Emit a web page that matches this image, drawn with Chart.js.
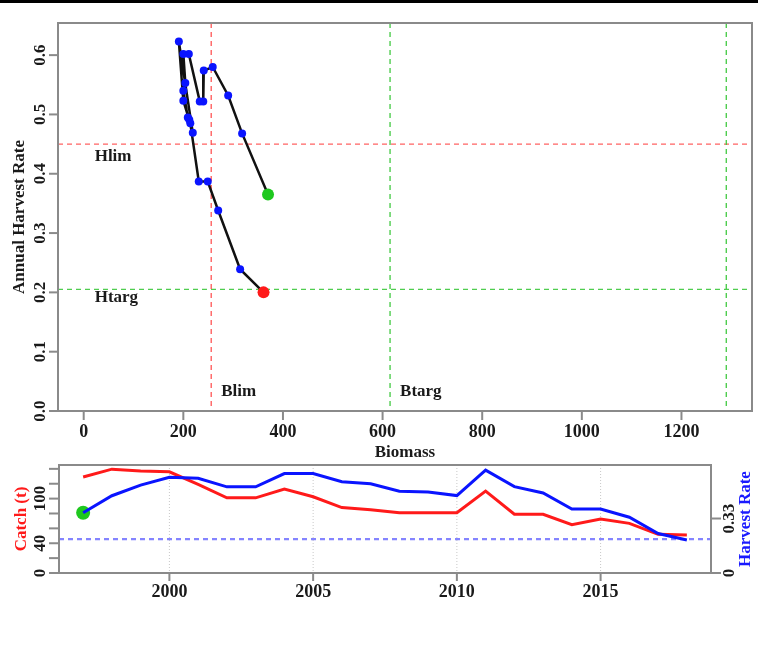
<!DOCTYPE html>
<html>
<head>
<meta charset="utf-8">
<script src="https://cdn.jsdelivr.net/npm/chart.js@4/dist/chart.umd.min.js"></script>
<style>
  html, body { margin: 0; padding: 0; background: #fff; }
  #wrap { position: relative; width: 758px; height: 670px; overflow: hidden; background: #fff; }
  #wrap canvas { position: absolute; left: 0; top: 0; }
  #rule { position: absolute; left: 0; top: 0; width: 758px; height: 3px; background: #000; }
</style>
</head>
<body>
<div id="wrap">
  <div id="rule"></div>
  <canvas id="phase" width="758" height="670"></canvas>
  <canvas id="series" width="758" height="670"></canvas>
</div>
<script>
// ---- stock data, one entry per year ----
const years = [1997, 1998, 1999, 2000, 2001, 2002, 2003, 2004, 2005, 2006, 2007,
               2008, 2009, 2010, 2011, 2012, 2013, 2014, 2015, 2016, 2017, 2018];
const biomass = [370, 318, 290, 259, 241, 240, 233, 211, 200, 204, 200,
                 209, 212, 219, 191, 200, 214, 231, 249, 270, 314, 361];
const harvestRate = [0.365, 0.468, 0.532, 0.580, 0.574, 0.522, 0.522, 0.602, 0.602, 0.553, 0.540,
                     0.495, 0.491, 0.469, 0.623, 0.523, 0.485, 0.387, 0.387, 0.338, 0.239, 0.200];
const catchT = [129, 139.6, 137, 136, 119, 101, 101, 112.7, 102.5, 88, 85,
                81, 81, 81, 110, 79, 79, 65, 72.5, 66.7, 52, 51];

// ---- reference points ----
const blim = 256;
const btarg = 615;
const bUpper = 1290;
const hlim = 0.45;
const htarg = 0.205;

// ---- axis ticks ----
const biomassTicks = [0, 200, 400, 600, 800, 1000, 1200];
const rateTicks = [0, 0.1, 0.2, 0.3, 0.4, 0.5, 0.6];
const rateTickLabels = ['0.0', '0.1', '0.2', '0.3', '0.4', '0.5', '0.6'];
const yearTicks = [2000, 2005, 2010, 2015];
const catchTicks = [0, 20, 40, 60, 80, 100, 120, 140];
const catchTickLabels = [0, 40, 100];
const rightRateTicks = [0, 0.33];
const rightRateTickLabels = ['0', '0.33'];

// axis limits (4% extension on x, zero-based y with headroom)
const bMaxLim = bUpper;
const rateMax = Math.max(...harvestRate) * 1.05;
const catchMax = Math.max(...catchT) * 1.04;
const yearPad = (years[years.length - 1] - years[0]) * 0.04;
const bPad = bMaxLim * 0.04;

const SERIF = '"Liberation Serif", "Times New Roman", serif';
const F = 'bold 17px ' + SERIF;
const FX = 'bold 18px ' + SERIF;
const AXIS = '#8a8a8a';
const INK = '#1a1a1a';

function vText(ctx, txt, x, y, color) {
  ctx.save();
  ctx.translate(x, y);
  ctx.rotate(-Math.PI / 2);
  ctx.font = F;
  ctx.fillStyle = color;
  ctx.textAlign = 'center';
  ctx.textBaseline = 'middle';
  ctx.fillText(txt, 0, 0);
  ctx.restore();
}
function hText(ctx, txt, x, y, color, align, font) {
  ctx.save();
  ctx.font = font || F;
  ctx.fillStyle = color;
  ctx.textAlign = align || 'center';
  ctx.textBaseline = 'middle';
  ctx.fillText(txt, x, y);
  ctx.restore();
}
function dashed(ctx, x1, y1, x2, y2, color, width, dash) {
  ctx.save();
  ctx.strokeStyle = color;
  ctx.lineWidth = width;
  ctx.setLineDash(dash);
  ctx.beginPath();
  ctx.moveTo(x1, y1);
  ctx.lineTo(x2, y2);
  ctx.stroke();
  ctx.restore();
}
function frame(ctx, a) {
  ctx.save();
  ctx.strokeStyle = AXIS;
  ctx.lineWidth = 2;
  ctx.strokeRect(a.left, a.top, a.right - a.left, a.bottom - a.top);
  ctx.restore();
}
function tick(ctx, x1, y1, x2, y2) {
  ctx.save();
  ctx.strokeStyle = AXIS;
  ctx.lineWidth = 2;
  ctx.beginPath();
  ctx.moveTo(x1, y1);
  ctx.lineTo(x2, y2);
  ctx.stroke();
  ctx.restore();
}

// ---- phase plot: harvest rate against biomass ----
const phaseDecor = {
  id: 'phaseDecor',
  beforeDatasetsDraw(chart) {
    const { ctx, chartArea: a, scales: { x, y } } = chart;
    ctx.save();
    ctx.beginPath();
    ctx.rect(a.left, a.top, a.right - a.left, a.bottom - a.top);
    ctx.clip();
    const red = 'rgba(255,70,70,0.85)', green = 'rgba(60,200,60,0.9)', d = [5, 4];
    dashed(ctx, a.left, y.getPixelForValue(hlim), a.right, y.getPixelForValue(hlim), red, 1.4, d);
    dashed(ctx, a.left, y.getPixelForValue(htarg), a.right, y.getPixelForValue(htarg), green, 1.4, d);
    dashed(ctx, x.getPixelForValue(blim), a.top, x.getPixelForValue(blim), a.bottom, red, 1.4, d);
    dashed(ctx, x.getPixelForValue(btarg), a.top, x.getPixelForValue(btarg), a.bottom, green, 1.4, d);
    dashed(ctx, x.getPixelForValue(bUpper), a.top, x.getPixelForValue(bUpper), a.bottom, green, 1.4, d);
    ctx.restore();
  },
  afterDraw(chart) {
    const { ctx, chartArea: a, scales: { x, y } } = chart;
    frame(ctx, a);
    biomassTicks.forEach(v => {
      const px = x.getPixelForValue(v);
      tick(ctx, px, a.bottom, px, a.bottom + 9);
      hText(ctx, String(v), px, a.bottom + 21, INK, 'center', FX);
    });
    rateTicks.forEach((v, i) => {
      const py = y.getPixelForValue(v);
      tick(ctx, a.left, py, a.left - 9, py);
      vText(ctx, rateTickLabels[i], a.left - 17, py, INK);
    });
    hText(ctx, 'Biomass', (a.left + a.right) / 2, a.bottom + 42, INK);
    vText(ctx, 'Annual Harvest Rate', 20, (a.top + a.bottom) / 2, INK);
    hText(ctx, 'Hlim', x.getPixelForValue(22), y.getPixelForValue(hlim) + 13, INK, 'left');
    hText(ctx, 'Htarg', x.getPixelForValue(22), y.getPixelForValue(htarg) + 8, INK, 'left');
    hText(ctx, 'Blim', x.getPixelForValue(blim) + 10, y.getPixelForValue(0.032), INK, 'left');
    hText(ctx, 'Btarg', x.getPixelForValue(btarg) + 10, y.getPixelForValue(0.032), INK, 'left');
  }
};

const last = years.length - 1;
const ptColor = years.map((_, i) => i === 0 ? '#1ec81e' : (i === last ? '#ff1a1a' : '#0a14ff'));
const ptRadius = years.map((_, i) => (i === 0 || i === last) ? 6 : 4);

new Chart(document.getElementById('phase'), {
  type: 'scatter',
  data: {
    datasets: [{
      data: biomass.map((b, i) => ({ x: b, y: harvestRate[i] })),
      showLine: true,
      borderColor: '#111',
      borderWidth: 2.5,
      tension: 0,
      pointBackgroundColor: ptColor,
      pointBorderColor: ptColor,
      pointBorderWidth: 0,
      pointRadius: ptRadius
    }]
  },
  options: {
    responsive: false,
    animation: false,
    events: [],
    layout: { padding: { left: 58, top: 23, right: 4, bottom: 259 } },
    plugins: { legend: { display: false }, tooltip: { enabled: false } },
    scales: {
      x: { type: 'linear', display: false, min: -bPad, max: bMaxLim + bPad },
      y: { type: 'linear', display: false, min: 0, max: rateMax }
    }
  },
  plugins: [phaseDecor]
});

// ---- time series: catch (left axis) and harvest rate (right axis) ----
const seriesDecor = {
  id: 'seriesDecor',
  beforeDatasetsDraw(chart) {
    const { ctx, chartArea: a, scales: { x, y1 } } = chart;
    yearTicks.forEach(v => {
      const px = x.getPixelForValue(v);
      dashed(ctx, px, a.top, px, a.bottom, '#c8c8c8', 1, [1, 2]);
    });
    const py = y1.getPixelForValue(htarg);
    dashed(ctx, a.left, py, a.right, py, 'rgba(110,110,255,0.85)', 2.2, [5, 4]);
  },
  afterDraw(chart) {
    const { ctx, chartArea: a, scales: { x, y, y1 } } = chart;
    frame(ctx, a);
    yearTicks.forEach(v => {
      const px = x.getPixelForValue(v);
      tick(ctx, px, a.bottom, px, a.bottom + 8);
      hText(ctx, String(v), px, a.bottom + 19, INK, 'center', FX);
    });
    catchTicks.forEach(v => {
      const py = y.getPixelForValue(v);
      tick(ctx, a.left, py, a.left - 10, py);
    });
    catchTickLabels.forEach(v => vText(ctx, String(v), a.left - 18, y.getPixelForValue(v), INK));
    rightRateTicks.forEach((v, i) => {
      const py = y1.getPixelForValue(v);
      tick(ctx, a.right, py, a.right + 10, py);
      vText(ctx, rightRateTickLabels[i], a.right + 19, py, INK);
    });
    vText(ctx, 'Catch (t)', 22, (a.top + a.bottom) / 2, '#ff1a1a');
    vText(ctx, 'Harvest Rate', a.right + 35, (a.top + a.bottom) / 2, '#1a1aff');
  }
};

new Chart(document.getElementById('series'), {
  type: 'scatter',
  data: {
    datasets: [
      {
        data: years.map((yr, i) => ({ x: yr, y: harvestRate[i] })),
        yAxisID: 'y1',
        showLine: true,
        borderColor: '#0a14ff',
        borderWidth: 3,
        pointRadius: 0,
        tension: 0
      },
      {
        data: years.map((yr, i) => ({ x: yr, y: catchT[i] })),
        yAxisID: 'y',
        showLine: true,
        borderColor: '#ff1a1a',
        borderWidth: 3,
        pointRadius: 0,
        tension: 0
      },
      {
        data: [{ x: years[0], y: harvestRate[0] }],
        yAxisID: 'y1',
        showLine: false,
        pointRadius: 7,
        pointBackgroundColor: '#1ec81e',
        pointBorderColor: '#1ec81e',
        pointBorderWidth: 0
      }
    ]
  },
  options: {
    responsive: false,
    animation: false,
    events: [],
    layout: { padding: { left: 59, top: 465, right: 47, bottom: 97 } },
    plugins: { legend: { display: false }, tooltip: { enabled: false } },
    scales: {
      x: { type: 'linear', display: false, min: years[0] - yearPad, max: years[last] + yearPad },
      y: { type: 'linear', display: false, position: 'left', min: 0, max: catchMax },
      y1: { type: 'linear', display: false, position: 'right', min: 0, max: rateMax }
    }
  },
  plugins: [seriesDecor]
});
</script>
</body>
</html>
